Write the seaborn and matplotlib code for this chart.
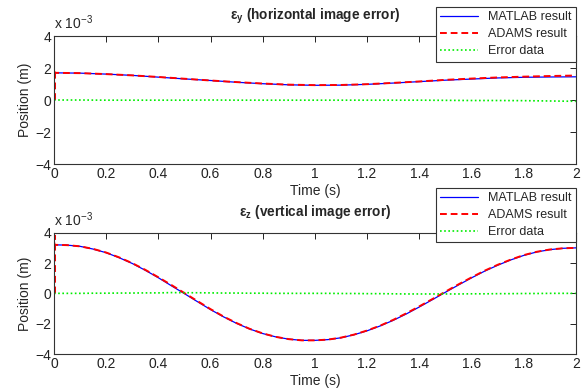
import seaborn as sns
import matplotlib.pyplot as plt

# time grid (s)
t_top = [0.0, 0.1, 0.2, 0.3, 0.4, 0.5, 0.6, 0.7, 0.8, 0.9, 1.0,
         1.1, 1.2, 1.3, 1.4, 1.5, 1.6, 1.7, 1.8, 1.9, 2.0]
# horizontal image error (x 10^-3 m)
ey_matlab = [1.70, 1.68, 1.62, 1.54, 1.43, 1.32, 1.22, 1.11, 1.02, 0.95, 0.92,
             0.93, 0.98, 1.06, 1.15, 1.24, 1.31, 1.38, 1.42, 1.44, 1.45]
ey_adams = [1.70, 1.68, 1.62, 1.54, 1.44, 1.33, 1.22, 1.12, 1.03, 0.96, 0.93,
            0.94, 0.99, 1.07, 1.16, 1.26, 1.34, 1.41, 1.46, 1.50, 1.53]
ey_error = [0.00, 0.00, -0.01, -0.01, -0.01, -0.01, 0.00, -0.01, -0.01, -0.01, -0.01,
            -0.01, -0.01, -0.01, -0.01, -0.02, -0.03, -0.03, -0.04, -0.06, -0.08]

t_bot = [0.0, 0.05, 0.1, 0.15, 0.2, 0.25, 0.3, 0.35, 0.4, 0.45, 0.5,
         0.55, 0.6, 0.65, 0.7, 0.75, 0.8, 0.85, 0.9, 0.95, 1.0,
         1.05, 1.1, 1.15, 1.2, 1.25, 1.3, 1.35, 1.4, 1.45, 1.5,
         1.55, 1.6, 1.65, 1.7, 1.75, 1.8, 1.85, 1.9, 1.95, 2.0]
# vertical image error (x 10^-3 m)
ez_matlab = [3.20, 3.18, 3.10, 2.92, 2.68, 2.35, 1.97, 1.52, 1.03, 0.50, -0.02,
             -0.55, -1.07, -1.55, -1.98, -2.35, -2.65, -2.87, -3.02, -3.10, -3.10,
             -3.05, -2.93, -2.73, -2.47, -2.15, -1.78, -1.36, -0.90, -0.42, 0.07,
             0.55, 1.02, 1.46, 1.85, 2.20, 2.50, 2.73, 2.88, 2.97, 3.00]
ez_adams = [3.20, 3.18, 3.10, 2.93, 2.69, 2.37, 1.99, 1.55, 1.06, 0.55, 0.02,
            -0.51, -1.04, -1.53, -1.96, -2.34, -2.64, -2.87, -3.02, -3.10, -3.10,
            -3.05, -2.92, -2.72, -2.45, -2.13, -1.75, -1.32, -0.86, -0.38, 0.11,
            0.59, 1.05, 1.49, 1.88, 2.22, 2.52, 2.74, 2.89, 2.97, 3.00]
ez_error = [0.00, 0.00, 0.00, 0.01, 0.01, 0.02, 0.02, 0.03, 0.03, 0.05, 0.04,
            0.04, 0.03, 0.02, 0.02, 0.01, 0.01, 0.00, 0.00, 0.00, 0.00,
            0.00, -0.01, -0.01, -0.02, -0.02, -0.03, -0.04, -0.04, -0.04, -0.04,
            -0.04, -0.03, -0.03, -0.02, -0.02, -0.01, -0.01, 0.00, 0.00, 0.00]

# ADAMS output starts with a short transient at t = 0
ey_spike = [0.0, 1.9]
ez_spike = [0.0, 3.8]

sns.set_style("white")
plt.rcParams["font.family"] = ["Liberation Sans", "DejaVu Sans"]
plt.rcParams["mathtext.fontset"] = "custom"
plt.rcParams["mathtext.rm"] = "Liberation Sans"
plt.rcParams["mathtext.it"] = "Liberation Sans:italic"
plt.rcParams["mathtext.bf"] = "Liberation Sans:bold"

fig = plt.figure(figsize=(5.85, 3.92), dpi=100)
ax1 = fig.add_axes([0.0923, 0.5816, 0.892, 0.3265])
ax2 = fig.add_axes([0.0923, 0.0969, 0.892, 0.3095])

panels = [
    (ax1, t_top, ey_matlab, ey_adams, ey_error, ey_spike,
     "ε$_\\mathbf{y}$ (horizontal image error)", 1.227),
    (ax2, t_bot, ez_matlab, ez_adams, ez_error, ez_spike,
     "ε$_\\mathbf{z}$ (vertical image error)", 1.372),
]

for ax, t, m, a, e, spike, title, leg_top in panels:
    sns.lineplot(x=t, y=m, ax=ax, color="blue", lw=0.9, label="MATLAB result",
                 estimator=None, sort=False)
    sns.lineplot(x=[0.004, 0.004] + t, y=spike + a, ax=ax, color="red", lw=1.4,
                 linestyle=(0, (3.5, 2)), label="ADAMS result",
                 estimator=None, sort=False)
    sns.lineplot(x=t, y=e, ax=ax, color="#00ee00", lw=1.2, linestyle=(0, (1, 1.5)),
                 label="Error data", estimator=None, sort=False)
    ax.set_xlim(0, 2)
    ax.set_ylim(-4, 4)
    ax.set_xticks([0, 0.2, 0.4, 0.6, 0.8, 1, 1.2, 1.4, 1.6, 1.8, 2])
    ax.set_xticklabels(["0", "0.2", "0.4", "0.6", "0.8", "1", "1.2", "1.4",
                        "1.6", "1.8", "2"])
    ax.set_yticks([-4, -2, 0, 2, 4])
    ax.tick_params(direction="in", top=True, right=True, labelsize=10,
                   length=4, width=0.7, pad=2, colors="#222222")
    for s in ax.spines.values():
        s.set_color("#333333")
        s.set_linewidth(0.8)
    ax.set_xlabel("Time (s)", fontsize=10, labelpad=2)
    ax.set_ylabel("Position (m)", fontsize=10, labelpad=2)
    ax.set_title(title, fontsize=9.8, fontweight="bold", pad=12)
    ax.text(0.0, 1.03, "x 10$^{-3}$", transform=ax.transAxes, fontsize=10,
            va="bottom", ha="left")
    leg = ax.legend(loc="upper right", bbox_to_anchor=(1.0, leg_top),
                    fontsize=9, frameon=True, fancybox=False, handlelength=3.0,
                    borderpad=0.35, labelspacing=0.4, handletextpad=0.8,
                    borderaxespad=0)
    leg.get_frame().set_edgecolor("#333333")
    leg.get_frame().set_linewidth(0.8)
    leg.get_frame().set_alpha(1)

fig.savefig("out.png", dpi=100)
